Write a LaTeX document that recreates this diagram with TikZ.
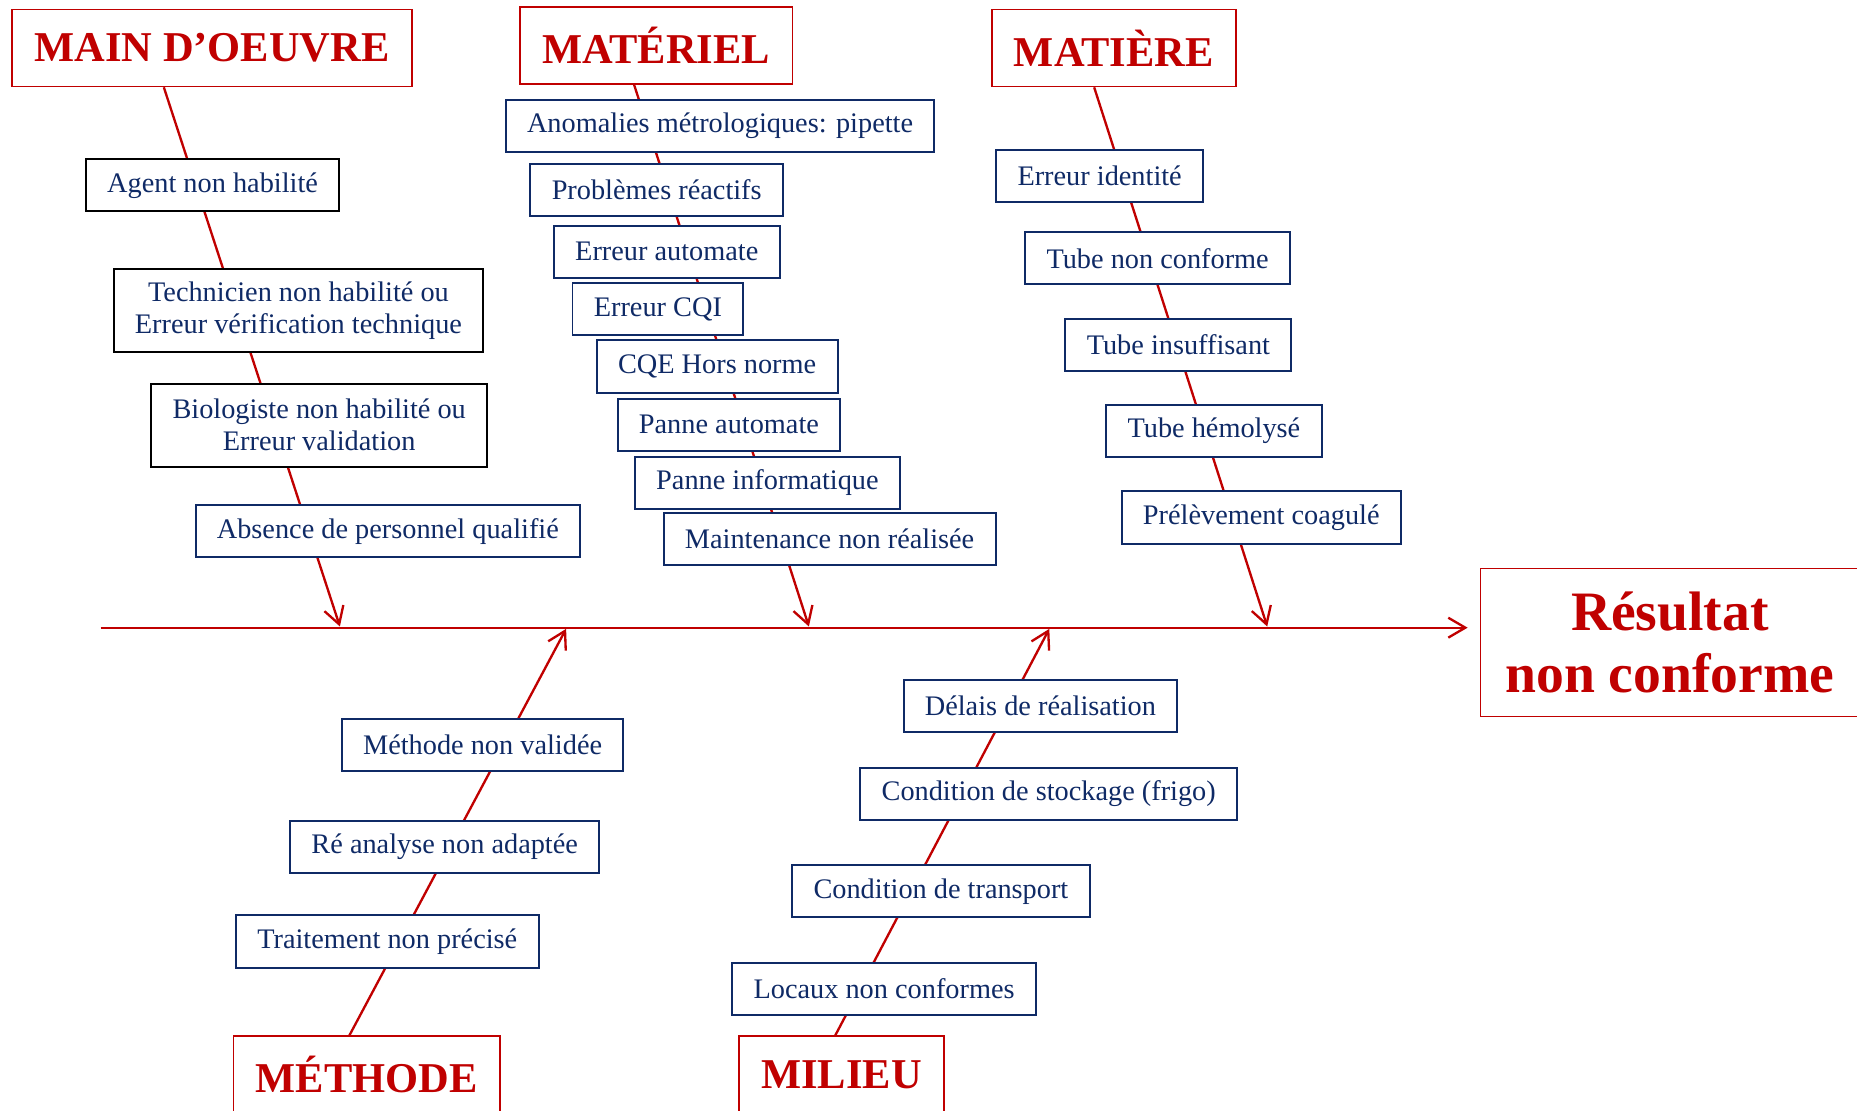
\documentclass[tikz,border=0pt]{standalone}
\usepackage{fontspec}
\setmainfont{Liberation Serif}
\usetikzlibrary{arrows.meta,calc}
\definecolor{redc}{HTML}{C00000}
\definecolor{navy}{HTML}{0F2A66}
\newcommand{\causefont}{\fontsize{17}{19.2}\selectfont}
\newcommand{\catfont}{\fontsize{25.5}{28}\selectfont\bfseries}
\newcommand{\resfont}{\fontsize{33.4}{37.7}\selectfont\bfseries}
\tikzset{
  bone/.style={draw=redc, line width=1.4pt},
  cat/.style={draw=redc, line width=1pt, fill=white, text=redc, font=\catfont,
    inner xsep=0.47cm, minimum height=1.625cm},
  cause/.style={draw=navy, line width=1.2pt, fill=white, text=navy, font=\causefont,
    inner xsep=0.45cm, minimum height=1.1cm, align=center},
  causebk/.style={cause, draw=black},
  twoline/.style={minimum height=1.75cm}
}
\begin{document}
\begin{tikzpicture}[x=0.025cm,y=-0.025cm,>={Straight Barb[length=0.36cm,width=0.42cm]}]
  \useasboundingbox (0,0) rectangle (1568,938);
  \node[cat] (mo) at (179,40.5) {MAIN D’OEUVRE};
  \node[cat] (ma) at (554,38.5) {MATÉRIEL};
  \node[cat] (mt) at (940.5,40.5) {MATIÈRE};
  \node[cat] (me) at (309.5,907.5) {MÉTHODE};
  \node[cat] (mi) at (710.5,907.5) {MILIEU};
  \node[cat, font=\resfont, align=center, minimum width=8cm, minimum height=3.125cm]
    (res) at (1410,542.5) {Résultat\\non conforme};
  \coordinate (tail) at (85,530);
  \coordinate (mo-tip) at (287,529);
  \coordinate (ma-tip) at (683,529);
  \coordinate (mt-tip) at (1070,529);
  \coordinate (me-tip) at (478,531);
  \coordinate (mi-tip) at (886,531);
  \begin{scope}[bone,->]
    \draw[shorten >=0.25cm] (tail) -- (tail -| res.west);
    \draw ($(mo.south west)!0.38!(mo.south east)$) -- (mo-tip);
    \draw ($(ma.south west)!0.42!(ma.south east)$) -- (ma-tip);
    \draw ($(mt.south west)!0.42!(mt.south east)$) -- (mt-tip);
    \draw ($(me.north west)!0.436!(me.north east)$) -- (me-tip);
    \draw ($(mi.north west)!0.47!(mi.north east)$) -- (mi-tip);
  \end{scope}
  \node[causebk] (agent) at (179.5,156.5) {Agent non habilité};
  \node[causebk, twoline] (tech) at (252,262) {Technicien non habilité ou\\Erreur vérification technique};
  \node[causebk, twoline] (bio) at (269.5,359) {Biologiste non habilité ou\\Erreur validation};
  \node[cause] (absence) at (327.5,448.5) {Absence de personnel qualifié};
  \node[cause] (anom) at (608,106.5) {Anomalies métrologiques: pipette};
  \node[cause] (reactif) at (554.5,160.5) {Problèmes réactifs};
  \node[cause] (errauto) at (563,212.5) {Erreur automate};
  \node[cause] (cqi) at (555.5,261) {Erreur CQI};
  \node[cause] (cqe) at (605.5,309.5) {CQE Hors norme};
  \node[cause] (panneauto) at (615.5,358.5) {Panne automate};
  \node[cause] (panneinfo) at (648,407.5) {Panne informatique};
  \node[cause] (maint) at (700.5,455) {Maintenance non réalisée};
  \node[cause] (ident) at (928.5,148.5) {Erreur identité};
  \node[cause] (tubenc) at (977.5,218) {Tube non conforme};
  \node[cause] (tubeins) at (995,291) {Tube insuffisant};
  \node[cause] (hemo) at (1025,364) {Tube hémolysé};
  \node[cause] (coag) at (1065,437) {Prélèvement coagulé};
  \node[cause] (methnv) at (407.5,629) {Méthode non validée};
  \node[cause] (reanal) at (375.5,715) {Ré analyse non adaptée};
  \node[cause] (trait) at (327,795) {Traitement non précisé};
  \node[cause] (delais) at (878.5,596) {Délais de réalisation};
  \node[cause] (stock) at (885.5,670.5) {Condition de stockage (frigo)};
  \node[cause] (transp) at (794.5,752.5) {Condition de transport};
  \node[cause] (locaux) at (746.5,835) {Locaux non conformes};
\end{tikzpicture}
\end{document}
